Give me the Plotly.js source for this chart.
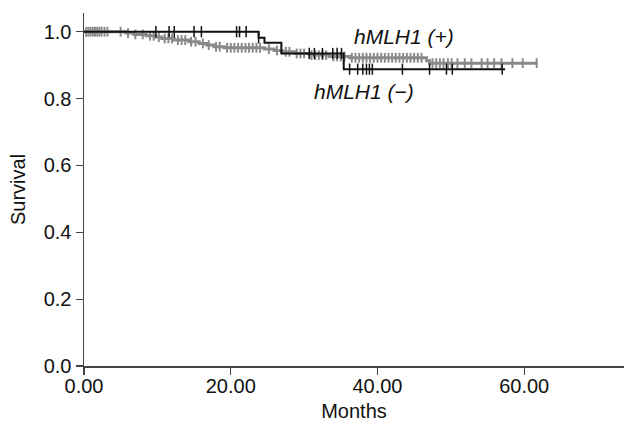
<!DOCTYPE html>
<html>
<head>
<meta charset="utf-8">
<script src="https://cdn.plot.ly/plotly-3.0.1.min.js"></script>
<style>html,body{margin:0;padding:0;background:#fff;}#chart{width:625px;height:430px;}</style>
</head>
<body>
<div id="chart"></div>
<script>
// hMLH1 (+) group: step times (months) and survival
const posTimes = [0, 23.8, 24.6, 26.9, 35.4, 57.4];
const posSurv  = [1.0, 0.982, 0.967, 0.935, 0.888, 0.888];
const posCensor = [9.8, 11.6, 12.3, 15.0, 16.0, 20.8, 21.2, 22.1, 23.8,
                   30.7, 31.4, 32.5, 33.9, 34.5,
                   35.1, 36.2, 37.3, 38.0, 38.5, 38.9, 39.3, 43.4, 47.1, 49.4, 50.2, 57.0];

// hMLH1 (-) group
const negTimes = [0, 5.7, 6.8, 8.5, 9.6, 10.6, 12.3, 14.3, 15.7, 16.7, 17.7, 19.1, 24.6, 25.9, 27.0, 28.7, 30.7, 33.4, 36.2, 46.7, 47.1, 61.8];
const negSurv  = [1.0, 0.996, 0.992, 0.988, 0.984, 0.980, 0.975, 0.970, 0.965, 0.960, 0.955, 0.952, 0.948, 0.944, 0.940, 0.935, 0.930, 0.926, 0.922, 0.913, 0.906, 0.906];
const negCensor = [0.3, 0.6, 0.9, 1.2, 1.5, 1.8, 2.1, 2.4, 2.8, 3.2, 5.0, 6.0, 7.0, 8.0, 9.0, 9.5, 10.2, 11.0, 11.5, 12.0, 12.8, 13.3, 13.8, 14.6, 15.2, 16.2, 17.0, 18.0, 18.5, 19.5, 20.0, 20.5, 21.0, 21.5, 22.0, 22.5, 23.0, 23.5, 24.0,
  25.2, 26.3, 27.5, 28.0, 29.0, 29.5, 30.0, 31.0, 31.5, 32.0, 32.5, 33.0, 34.0, 34.5, 35.0, 35.5, 36.5, 37.0, 37.5, 38.0, 38.5, 39.0, 39.5, 40.0, 40.5, 41.0, 41.5, 42.0, 42.5, 43.0, 43.5, 44.0, 44.5, 45.0, 45.5, 46.0,
  47.5, 48.0, 48.5, 49.0, 49.6, 50.1, 50.9, 51.9, 52.8, 54.2, 55.0, 55.9, 56.9, 58.4, 59.8, 61.7];

const xTicks = [0, 20, 40, 60];
const xTickLabels = ['0.00', '20.00', '40.00', '60.00'];
const yTicks = [0, 0.2, 0.4, 0.6, 0.8, 1.0];
const yTickLabels = ['0.0', '0.2', '0.4', '0.6', '0.8', '1.0'];

function survAt(times, surv, t) {
  let s = surv[0];
  for (let i = 0; i < times.length; i++) { if (times[i] <= t) s = surv[i]; }
  return s;
}

const gray = '#8a8a8a';
const black = '#111111';
const traces = [
  {x: negTimes, y: negSurv, mode: 'lines', line: {shape: 'hv', color: gray, width: 3}, hoverinfo: 'skip'},
  {x: negCensor, y: negCensor.map(t => survAt(negTimes, negSurv, t)), mode: 'markers',
   marker: {symbol: 'line-ns-open', size: 7, color: gray, line: {color: gray, width: 2}}, hoverinfo: 'skip'},
  {x: posTimes, y: posSurv, mode: 'lines', line: {shape: 'hv', color: black, width: 2}, hoverinfo: 'skip'},
  {x: posCensor, y: posCensor.map(t => survAt(posTimes, posSurv, t)), mode: 'markers',
   marker: {symbol: 'line-ns-open', size: 8, color: black, line: {color: black, width: 1.5}}, hoverinfo: 'skip'}
];

const fnt = {family: 'Liberation Sans, Arial, sans-serif', size: 20, color: '#111'};
const layout = {
  width: 625, height: 430,
  margin: {l: 84, r: 1, t: 13, b: 64},
  paper_bgcolor: '#fff', plot_bgcolor: '#fff',
  showlegend: false,
  font: fnt,
  xaxis: {
    range: [0, 73.6], tickvals: xTicks, ticktext: xTickLabels,
    showgrid: false, zeroline: false, showline: true, linecolor: '#444', linewidth: 1.5,
    ticks: 'outside', ticklen: 7, tickcolor: '#444', tickwidth: 1.2,
    ticklabelstandoff: -6,
    tickfont: fnt, title: {text: 'Months', font: fnt, standoff: 8}
  },
  yaxis: {
    range: [0, 1.056], tickvals: yTicks, ticktext: yTickLabels,
    showgrid: false, zeroline: false, showline: true, linecolor: '#444', linewidth: 1.5,
    ticks: 'outside', ticklen: 7, tickcolor: '#444', tickwidth: 1.2,
    tickfont: fnt, title: {text: 'Survival', font: fnt, standoff: 12}
  },
  annotations: [
    {x: 404, y: 37, text: '<i>hMLH1 (+)</i>'},
    {x: 364, y: 91, text: '<i>hMLH1 (−)</i>'}
  ].map(a => ({
    x: (a.x - 84) / 540, y: (366 - a.y) / 353, xref: 'paper', yref: 'paper',
    xanchor: 'center', yanchor: 'middle', text: a.text, showarrow: false,
    font: {family: fnt.family, size: 21, color: '#111'}
  }))
};

Plotly.newPlot('chart', traces, layout, {staticPlot: true});
</script>
</body>
</html>
